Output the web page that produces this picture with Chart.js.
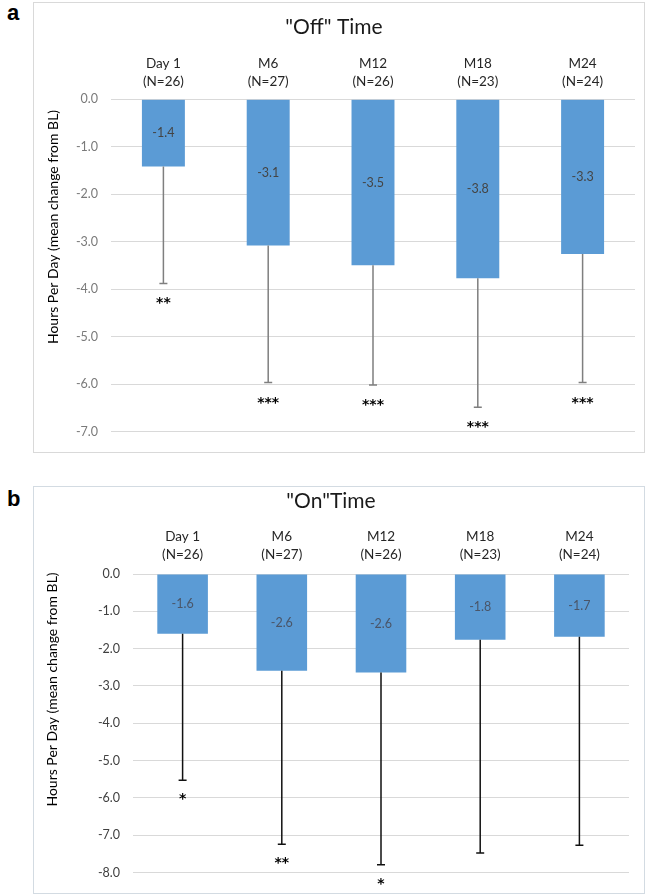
<!DOCTYPE html>
<html>
<head>
<meta charset="utf-8">
<script src="https://cdn.jsdelivr.net/npm/chart.js@4.4.1/dist/chart.umd.min.js"></script>
<style>
  body { margin: 0; background: #fff; width: 649px; height: 896px; position: relative; overflow: hidden; }
  .frame { position: absolute; left: 33px; width: 612px; box-sizing: border-box; border: 1px solid #d9d9d9; }
  .box { position: absolute; left: 33px; width: 612px; }
  .tag { position: absolute; left: 7px; font: bold 22px 'Liberation Sans', Arial, sans-serif; color: #000; }
</style>
</head>
<body>
<div class="tag" style="top:0px">a</div>
<div class="frame" style="top:2px;height:451px"></div>
<div class="box" style="top:2px;height:450px"><canvas id="offChart" width="612" height="450"></canvas></div>

<div class="tag" style="top:486px">b</div>
<div class="frame" style="top:486px;height:408px;border-color:#d3dbe2"></div>
<div class="box" style="top:486px;height:407px"><canvas id="onChart" width="612" height="407"></canvas></div>

<script>
'use strict';

// Catégories (visites) et effectifs
const visits = [['Day 1', '(N=26)'], ['M6', '(N=27)'], ['M12', '(N=26)'], ['M18', '(N=23)'], ['M24', '(N=24)']];

// "Off" time : moyenne et borne basse de la barre d'erreur
const offMeans = [-1.42, -3.08, -3.50, -3.77, -3.26];
const offLows = [-3.88, -5.97, -6.02, -6.49, -5.97];
const offStars = ['**', '***', '***', '***', '***'];
const offTicks = [0, -1, -2, -3, -4, -5, -6, -7];

// "On" time
const onMeans = [-1.60, -2.59, -2.64, -1.76, -1.68];
const onLows = [-5.53, -7.24, -7.79, -7.48, -7.27];
const onStars = ['*', '**', '*', '', ''];
const onTicks = [0, -1, -2, -3, -4, -5, -6, -7, -8];

Chart.defaults.font.family = 'Lato';

// Barres d'erreur, étiquettes de valeur, astérisques et titre de l'axe Y
function makeExtras(means, lows, stars, cfg) {
    return {
        id: 'extras',
        afterDatasetsDraw(chart) {
            const ctx = chart.ctx;
            const yScale = chart.scales.y;
            const meta = chart.getDatasetMeta(0);
            ctx.save();
            meta.data.forEach((bar, i) => {
                ctx.fillStyle = cfg.labelColor;
                ctx.font = '12.5px Lato';
                ctx.textAlign = 'center';
                ctx.textBaseline = 'middle';
                ctx.fillText(means[i].toFixed(1), bar.x, (bar.y + bar.base) / 2);

                const y0 = yScale.getPixelForValue(means[i]);
                const y1 = yScale.getPixelForValue(lows[i]);
                ctx.strokeStyle = cfg.errColor;
                ctx.lineWidth = 1.5;
                ctx.beginPath();
                ctx.moveTo(bar.x, y0);
                ctx.lineTo(bar.x, y1);
                ctx.moveTo(bar.x - 4, y1);
                ctx.lineTo(bar.x + 4, y1);
                ctx.stroke();

                if (stars[i]) {
                    ctx.fillStyle = '#000';
                    ctx.font = 'bold 14px "DejaVu Sans"';
                    ctx.textBaseline = 'alphabetic';
                    ctx.fillText(stars[i], bar.x, y1 + cfg.starGap);
                }
            });
            ctx.translate(cfg.titleX, chart.height / 2);
            ctx.rotate(-Math.PI / 2);
            ctx.fillStyle = '#000';
            ctx.font = '14px Lato';
            ctx.textAlign = 'center';
            ctx.textBaseline = 'middle';
            ctx.fillText('Hours Per Day (mean change from BL)', 0, 0);
            ctx.restore();
        }
    };
}

function drawPanel(canvasId, title, means, lows, stars, ticks, cfg) {
    const ctx = document.getElementById(canvasId).getContext('2d');
    new Chart(ctx, {
        type: 'bar',
        data: {
            labels: visits,
            datasets: [{
                data: means,
                backgroundColor: '#5b9bd5',
                borderWidth: 0,
                categoryPercentage: 1,
                barPercentage: cfg.barPct
            }]
        },
        options: {
            responsive: false,
            animation: false,
            devicePixelRatio: 1,
            layout: { padding: { left: 0, right: cfg.padRight, top: 0, bottom: cfg.padBottom } },
            plugins: {
                legend: { display: false },
                tooltip: { enabled: false },
                title: {
                    display: true,
                    text: title,
                    color: '#1a1a1a',
                    font: { size: 21, weight: 'normal' },
                    padding: { top: cfg.titleTop, bottom: 0 }
                }
            },
            scales: {
                x: {
                    position: 'top',
                    grid: { display: false, drawTicks: false },
                    border: { display: false },
                    ticks: { color: '#262626', font: { size: 13.5, lineHeight: 1.33 }, padding: cfg.xPad, maxRotation: 0 },
                    afterFit: s => { s.height = cfg.xHeight; }
                },
                y: {
                    min: ticks[ticks.length - 1],
                    max: ticks[0],
                    afterBuildTicks: s => { s.ticks = ticks.map(v => ({ value: v })); },
                    grid: { color: '#d9d9d9', drawTicks: false },
                    border: { display: false },
                    ticks: { color: cfg.tickColor, font: { size: 12.5 }, padding: 13, callback: v => Number(v).toFixed(1) },
                    afterFit: s => { s.width = cfg.yWidth; }
                }
            }
        },
        plugins: [makeExtras(means, lows, stars, cfg)]
    });
}

drawPanel('offChart', '"Off" Time', offMeans, offLows, offStars, offTicks, {
    barPct: 0.41, padRight: 10, padBottom: 16, titleTop: 13, xHeight: 59, xPad: 9,
    yWidth: 78, titleX: 20, tickColor: '#7a7a7a', labelColor: '#444', errColor: '#7f7f7f', starGap: 24
});

drawPanel('onChart', '"On"Time', onMeans, onLows, onStars, onTicks, {
    barPct: 0.51, padRight: 16, padBottom: 19, titleTop: 2.4, xHeight: 60.4, xPad: 10,
    yWidth: 100, titleX: 19, tickColor: '#404040', labelColor: '#4a5568', errColor: '#111', starGap: 23
});
</script>
</body>
</html>
